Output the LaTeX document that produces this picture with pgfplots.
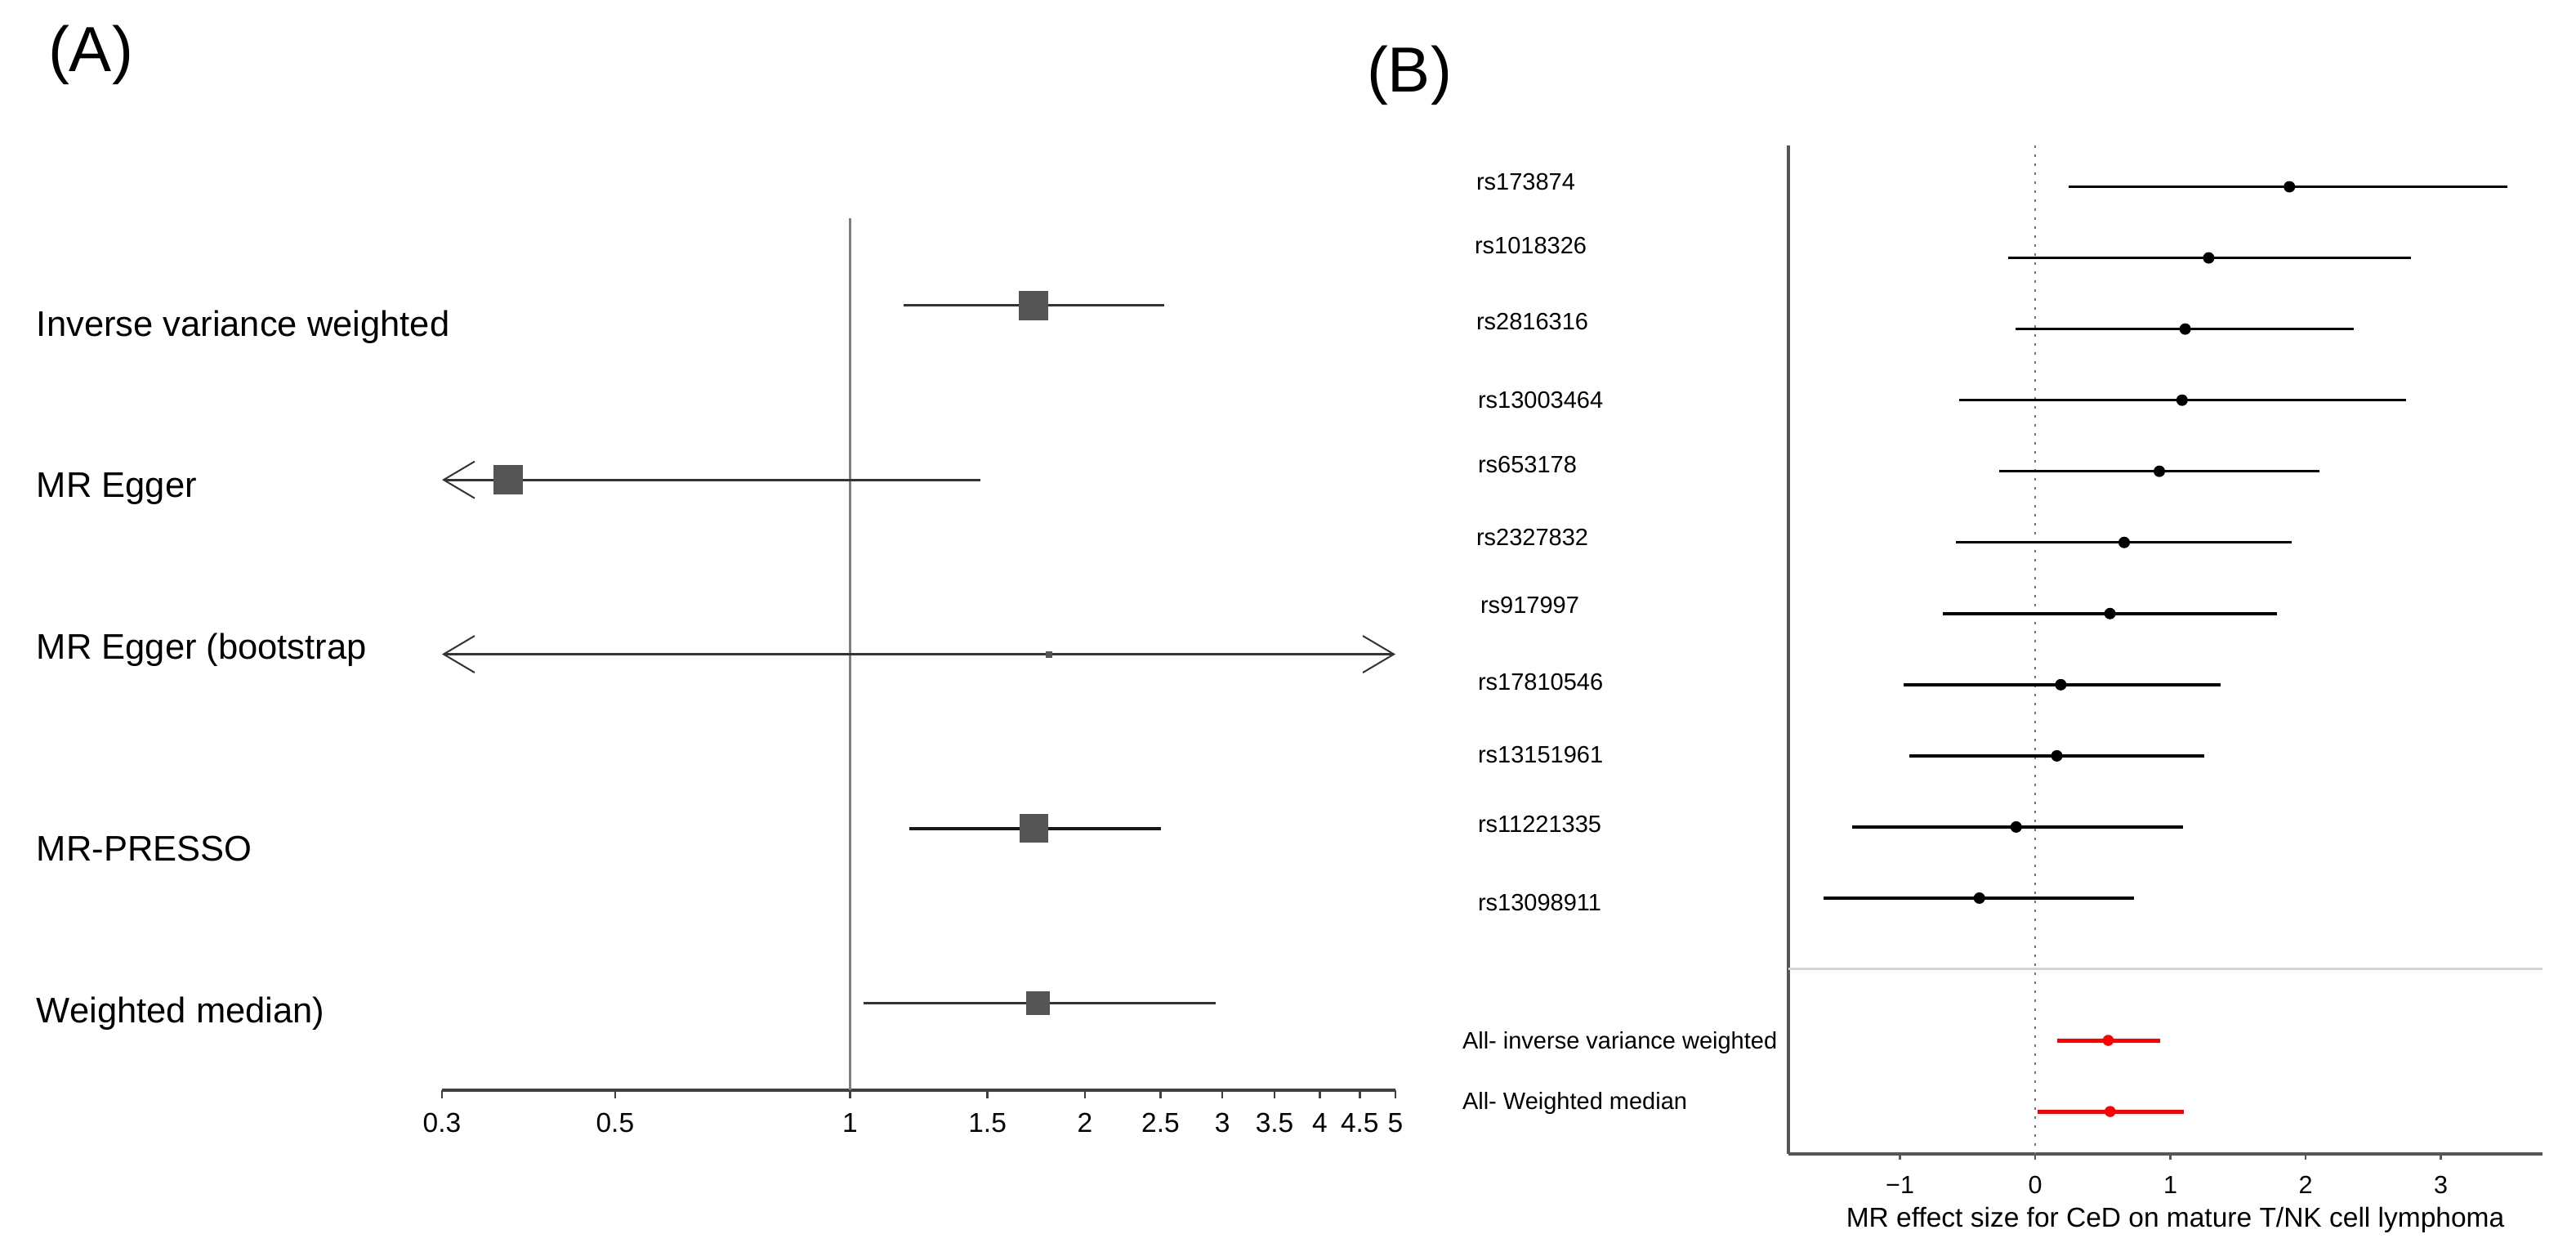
\documentclass[border=0pt]{standalone}
\usepackage{fontspec}
\setmainfont{Liberation Sans}
\usepackage{pgfplots}
\usepackage{pgfplotstable}
\pgfplotsset{compat=1.18}
\usetikzlibrary{arrows.meta}
\definecolor{boxgray}{HTML}{555555}
\definecolor{cigray}{HTML}{333333}
\definecolor{refgray}{HTML}{808080}
\definecolor{sepgray}{HTML}{D3D3D3}
\definecolor{axgray}{HTML}{555555}

\pgfplotstableread{
row est lo hi
1 1.880 0.247 3.490
2 1.283 -0.199 2.778
3 1.109 -0.147 2.355
4 1.086 -0.564 2.743
5 0.918 -0.269 2.100
6 0.658 -0.587 1.897
7 0.553 -0.686 1.787
8 0.189 -0.975 1.370
9 0.160 -0.929 1.248
10 -0.141 -1.352 1.092
11 -0.413 -1.566 0.733
}\snps
\pgfplotstableread{
row est lo hi
13 0.540 0.165 0.924
14 0.554 0.017 1.099
}\overall

\begin{document}
\begin{tikzpicture}
\useasboundingbox (0pt,0pt) rectangle (630.6pt,-306.2pt);

% ---------------- Panel A ----------------
\begin{axis}[
  at={(108.2pt,-266.8pt)}, anchor=south west,
  scale only axis, width=233.4pt, height=213.4pt,
  xmode=log, xmin=0.3, xmax=5, ymin=-5.5, ymax=-0.5,
  axis x line=bottom, axis y line=none,
  axis line style={-},
  x axis line style={-, draw=black!75, line width=0.8pt},
  xtick={0.3,0.5,1,1.5,2,2.5,3,3.5,4,4.5,5},
  xticklabels={0.3,0.5,1,1.5,2,2.5,3,3.5,4,4.5,5},
  xminorticks=false, ytick=\empty,
  tick align=outside, major tick length=2pt,
  xtick style={draw=black!75, line width=0.5pt},
  xticklabel style={font=\fontsize{6.7}{8}\selectfont, anchor=base, yshift=-8.2pt, inner sep=0pt},
  /pgf/number format/assume math mode=true,
  clip=false,
]
\addplot[draw=refgray, line width=0.45pt] coordinates {(1,-0.5) (1,-5.5)};
% Inverse variance weighted
\addplot[draw=cigray, line width=0.6pt] coordinates {(1.17,-1) (2.53,-1)};
\addplot[only marks, mark=square*, mark size=3.4pt, color=boxgray] coordinates {(1.72,-1)};
% MR Egger
\addplot[draw=cigray, line width=0.6pt, -{Straight Barb[length=7.6pt,width=9pt,line width=0.4pt]}] coordinates {(1.47,-2) (0.3,-2)};
\addplot[only marks, mark=square*, mark size=3.4pt, color=boxgray] coordinates {(0.365,-2)};
% MR Egger (bootstrap)
\addplot[draw=cigray, line width=0.5pt, {Straight Barb[length=7.6pt,width=9pt,line width=0.4pt]}-{Straight Barb[length=7.6pt,width=9pt,line width=0.4pt]}] coordinates {(0.3,-3) (5,-3)};
\addplot[only marks, mark=square*, mark size=0.6pt, color=boxgray] coordinates {(1.80,-3)};
% MR-PRESSO
\addplot[draw=black!90, line width=0.9pt] coordinates {(1.19,-4) (2.50,-4)};
\addplot[only marks, mark=square*, mark size=3.3pt, color=boxgray] coordinates {(1.72,-4)};
% Weighted median
\addplot[draw=cigray, line width=0.5pt] coordinates {(1.04,-5) (2.94,-5)};
\addplot[only marks, mark=square*, mark size=2.7pt, color=boxgray] coordinates {(1.74,-5)};
\end{axis}

% ---------------- Panel B ----------------
\begin{axis}[
  at={(437.8pt,-282.4pt)}, anchor=south west,
  scale only axis, width=184.6pt, height=246.9pt,
  xmin=-1.825, xmax=3.752, ymin=-14.597, ymax=-0.414,
  axis x line=bottom, axis y line=left,
  axis line style={-, draw=axgray, line width=0.75pt},
  xtick={-1,0,1,2,3},
  xticklabels={−1,0,1,2,3},
  ytick=\empty,
  tick align=outside, major tick length=1.4pt,
  xtick style={draw=axgray, line width=0.5pt},
  xticklabel style={font=\fontsize{6.1}{7}\selectfont, anchor=base, yshift=-8.2pt, inner sep=0pt},
  clip=false,
]
\addplot[draw=black!55, line width=0.5pt, dash pattern=on 0.6pt off 1.6pt] coordinates {(0,-0.414) (0,-14.597)};
\addplot[draw=sepgray, line width=0.6pt] coordinates {(-1.825,-12) (3.752,-12)};
\addplot[only marks, mark=*, mark size=1.2pt, color=black,
  error bars/.cd, x dir=both, x explicit, error mark=none,
  error bar style={line width=0.7pt, black}]
  table[x=est, y expr=-\thisrow{row},
        x error plus expr=\thisrow{hi}-\thisrow{est},
        x error minus expr=\thisrow{est}-\thisrow{lo}] {\snps};
\addplot[only marks, mark=*, mark size=1.15pt, color=red,
  error bars/.cd, x dir=both, x explicit, error mark=none,
  error bar style={line width=1pt, red}]
  table[x=est, y expr=-\thisrow{row},
        x error plus expr=\thisrow{hi}-\thisrow{est},
        x error minus expr=\thisrow{est}-\thisrow{lo}] {\overall};
\node[anchor=base, inner sep=0pt, font=\fontsize{6.7}{8}\selectfont, yshift=-17.8pt] at (rel axis cs:0.513,0) {MR effect size for CeD on mature T/NK cell lymphoma};
\end{axis}

% ---------------- Texts ----------------
\begin{scope}[x=0.2pt,y=-0.2pt]
\node[anchor=base west, inner sep=0pt, font=\fontsize{15.6}{18}\selectfont] at (58,87) {(A)};
\node[anchor=base west, inner sep=0pt, font=\fontsize{15.6}{18}\selectfont] at (1672,112) {(B)};
\begin{scope}[every node/.style={anchor=base west, inner sep=0pt, font=\fontsize{8.7}{10}\selectfont}]
\node at (44,411) {Inverse variance weighted};
\node at (44,608) {MR Egger};
\node at (44,806) {MR Egger (bootstrap};
\node at (44,1053) {MR-PRESSO};
\node at (44,1251) {Weighted median)};
\end{scope}
\begin{scope}[every node/.style={anchor=base west, inner sep=0pt, font=\fontsize{5.8}{7}\selectfont}]
\node at (1806,232) {rs173874};
\node at (1804,310) {rs1018326};
\node at (1806,403) {rs2816316};
\node at (1808,499) {rs13003464};
\node at (1808,578) {rs653178};
\node at (1806,667) {rs2327832};
\node at (1811,750) {rs917997};
\node at (1808,844) {rs17810546};
\node at (1808,933) {rs13151961};
\node at (1808,1018) {rs11221335};
\node at (1808,1114) {rs13098911};
\node at (1789,1283) {All- inverse variance weighted};
\node at (1789,1357) {All- Weighted median};
\end{scope}
\end{scope}
\end{tikzpicture}
\end{document}
